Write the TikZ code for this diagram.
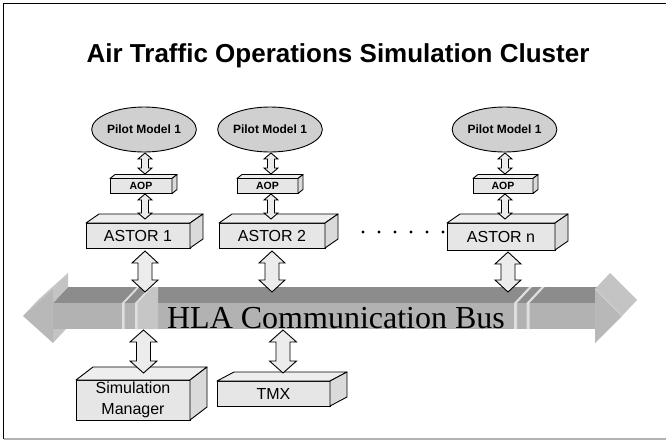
\documentclass[tikz,border=0pt]{standalone}
\usepackage{fontspec}
\setmainfont{Liberation Sans}
\newfontfamily\busserif{Liberation Serif}
\usetikzlibrary{shapes.geometric,calc}
\definecolor{boxfill}{HTML}{E6E6E6}
\definecolor{boxtop}{HTML}{EEEEEE}
\definecolor{boxside}{HTML}{DADADA}
\definecolor{pilotfill}{HTML}{D0D0D0}
\definecolor{arrowfill}{HTML}{ECECEC}
\definecolor{bustopc}{HTML}{8C8C8C}
\definecolor{busfrontc}{HTML}{B2B2B2}
\definecolor{headfrontc}{HTML}{B8B8B8}
\definecolor{headsidec}{HTML}{C4C4C4}
\definecolor{breakc}{HTML}{DEDEDE}
\definecolor{breakblock}{HTML}{C6C6C6}
\tikzset{
  boxnode/.style={draw, fill=boxfill, line width=0.9pt, inner sep=0pt, outer sep=0pt, align=center},
  facetop/.style={draw, fill=boxtop, line width=0.9pt, line join=round},
  faceside/.style={draw, fill=boxside, line width=0.9pt, line join=round},
  pilotnode/.style={ellipse, draw, fill=pilotfill, line width=0.9pt, inner sep=0pt, outer sep=0pt,
    minimum width=88pt, minimum height=45pt, font=\fontsize{12}{14}\selectfont\bfseries},
  linkarrow/.style={draw, fill=arrowfill, line width=0.9pt, line join=miter},
}
% 3D faces of a box node: #1 node, #2 dx, #3 dy (negative = up)
\newcommand\depthfaces[3]{%
  \draw[facetop] (#1.north west) -- ++(#2,#3) -- ([shift={(#2,#3)}]#1.north east) -- (#1.north east) -- cycle;
  \draw[faceside] (#1.north east) -- ([shift={(#2,#3)}]#1.north east) -- ([shift={(#2,#3)}]#1.south east) -- (#1.south east) -- cycle;
}
% vertical double block arrow: #1 top point (x taken from it), #2 bottom point, #3 head half, #4 shaft half, #5 head length
\newcommand\vlink[5]{%
  \draw[linkarrow] let \p1=#1, \p2=#2 in
   (\x1,\y1) -- (\x1+#3pt,\y1-#5pt) -- (\x1+#4pt,\y1-#5pt) -- (\x1+#4pt,\y2+#5pt) -- (\x1+#3pt,\y2+#5pt)
   -- (\x1,\y2) -- (\x1-#3pt,\y2+#5pt) -- (\x1-#4pt,\y2+#5pt) -- (\x1-#4pt,\y1-#5pt) -- (\x1-#3pt,\y1-#5pt) -- cycle;
}
\begin{document}
\begin{tikzpicture}[x=1pt,y=-1pt]
\useasboundingbox (0,0) rectangle (666,440);
\fill[white] (0,0) rectangle (666,440);
% frame
\draw[line width=1.2pt] (3.5,439) -- (3.5,3.5) -- (666,3.5);
\draw[line width=1.2pt, gray!60] (3.5,439) -- (666,439);

% title
\node[font=\fontsize{26}{30}\selectfont\bfseries, anchor=base] (title) at (338,62) {Air Traffic Operations Simulation Cluster};

% ---------- bus ----------
\fill[bustopc] (53,303) -- (68,287) -- (610,287) -- (595,303) -- cycle;
\fill[busfrontc] (53,303) rectangle (595,329);
% left head
\fill[headsidec] (23,316) -- (53,289) -- (68,273) -- (38,300) -- cycle;
\fill[headsidec] (53,289) -- (68,273) -- (68,287) -- (53,303) -- cycle;
\fill[headsidec] (53,329) -- (53,343) -- (66,329) -- cycle;
\fill[headfrontc] (53,289) -- (23,316) -- (53,343) -- cycle;
% right head
\fill[headfrontc] (595,289) -- (622,316) -- (595,343) -- cycle;
\fill[headsidec] (595,289) -- (610,273) -- (637,300) -- (622,316) -- cycle;
\draw[white!70!gray, line width=0.5pt] (595,289) -- (622,316);
% breaks
\fill[breakc] (122,329) -- (122,303) -- (137,287) -- (139.5,287) -- (124.5,303) -- (124.5,329) -- cycle;
\fill[breakblock] (137,329) -- (137,303) -- (152,287) -- (158,287) -- (158,329) -- cycle;
\fill[breakc] (135,329) -- (135,303) -- (150,287) -- (152.5,287) -- (137.5,303) -- (137.5,329) -- cycle;
\fill[breakc] (514,329) -- (514,303) -- (529,287) -- (532,287) -- (517,303) -- (517,329) -- cycle;
\fill[breakc] (526.5,329) -- (526.5,303) -- (541.5,287) -- (544.5,287) -- (529.5,303) -- (529.5,329) -- cycle;
\coordinate (busjoin) at (336,292);
\coordinate (busbottom) at (336,330);
\node[font=\busserif\fontsize{32}{34}\selectfont, anchor=base, inner sep=0pt] (bus) at (336,328) {HLA Communication Bus};

% ---------- pilot models ----------
\node[pilotnode] (pm1) at (144,129.5) {Pilot Model 1};
\node[pilotnode] (pm2) at (270,129.5) {Pilot Model 1};
\node[pilotnode] (pm3) at (504.5,129.5) {Pilot Model 1};

% ---------- AOP ----------
\node[boxnode, minimum width=62pt, minimum height=15pt, font=\fontsize{10.5}{12}\selectfont\bfseries] (aop1) at (141,186) {AOP};
\node[boxnode, minimum width=61pt, minimum height=15pt, font=\fontsize{10.5}{12}\selectfont\bfseries] (aop2) at (267.5,186) {AOP};
\node[boxnode, minimum width=60pt, minimum height=15pt, font=\fontsize{10.5}{12}\selectfont\bfseries] (aop3) at (503,186) {AOP};
\depthfaces{aop1}{5}{-4}
\depthfaces{aop2}{5}{-4}
\depthfaces{aop3}{5}{-4}

% ---------- ASTOR ----------
\node[boxnode, minimum width=104pt, minimum height=25pt, font=\fontsize{16}{18}\selectfont] (astor1) at (138,235.5) {ASTOR 1};
\node[boxnode, minimum width=106pt, minimum height=25pt, font=\fontsize{16}{18}\selectfont] (astor2) at (272,235.5) {ASTOR 2};
\node[boxnode, minimum width=108pt, minimum height=27pt, font=\fontsize{16}{18}\selectfont] (astorn) at (501,236.5) {ASTOR n};
\depthfaces{astor1}{13}{-9}
\depthfaces{astor2}{13}{-9}
\depthfaces{astorn}{13}{-9}

% dots
\foreach \i in {0,...,5} \fill (363+16*\i,232) circle (1.7);

% ---------- lower boxes ----------
\node[boxnode, minimum width=114pt, minimum height=40pt, font=\fontsize{16}{21}\selectfont] (sim) at (133,400) {Simulation\\Manager};
\node[boxnode, minimum width=113pt, minimum height=25pt, font=\fontsize{16}{18}\selectfont] (tmx) at (273.5,393.5) {TMX};
\depthfaces{sim}{17}{-13}
\depthfaces{tmx}{17}{-9}

% ---------- connectors ----------
\vlink{([xshift=1pt,yshift=-1pt]pm1.south)}{([yshift=4.5pt]aop1.north)}{7}{3.5}{6}
\vlink{([xshift=1pt,yshift=-1pt]pm2.south)}{([yshift=4.5pt]aop2.north)}{7}{3.5}{6}
\vlink{([xshift=0.5pt,yshift=-1pt]pm3.south)}{([yshift=4.5pt]aop3.north)}{7}{3.5}{6}

\vlink{([xshift=4pt,yshift=-0.5pt]aop1.south)}{([yshift=4pt]astor1.north)}{7}{3.5}{6}
\vlink{([xshift=3.5pt,yshift=-0.5pt]aop2.south)}{([yshift=4pt]astor2.north)}{7}{3.5}{6}
\vlink{([xshift=2pt,yshift=-0.5pt]aop3.south)}{([yshift=4pt]astorn.north)}{7}{3.5}{6}

\vlink{([xshift=7pt,yshift=-3pt]astor1.south)}{(busjoin)}{13}{7}{12}
\vlink{([xshift=0pt,yshift=-3pt]astor2.south)}{(busjoin)}{13}{7}{12}
\vlink{([xshift=7pt,yshift=-2pt]astorn.south)}{(busjoin)}{13}{7}{12}

\vlink{($(sim.north |- busbottom)+(10.5,0)$)}{([yshift=7pt]sim.north)}{13.5}{7}{12}
\vlink{($(tmx.north |- busbottom)+(9.5,0)$)}{([yshift=8pt]tmx.north)}{13.5}{7}{12}
\end{tikzpicture}
\end{document}
